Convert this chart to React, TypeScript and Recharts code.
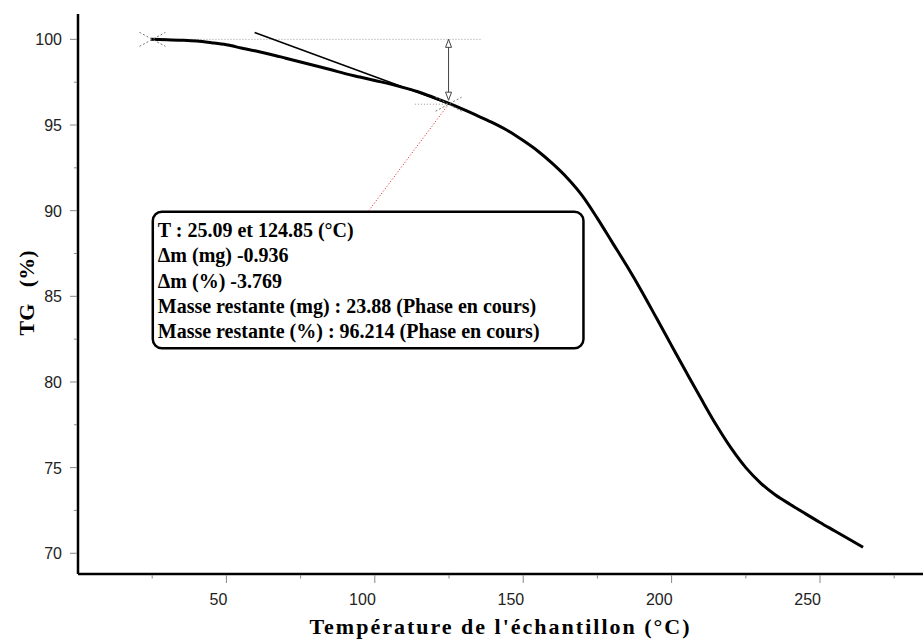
import { ComposedChart, Line, XAxis, YAxis, ReferenceLine, ReferenceDot, ReferenceArea } from 'recharts';

// TG curve (temperature in °C, mass in %)
const temps = [24.5, 30, 35, 40, 45, 50, 55, 60, 65, 70, 75, 80, 85, 90, 95, 100, 105, 110, 115, 120, 125, 130, 135, 140, 145, 150, 155, 160, 165, 170, 175, 180, 185, 190, 195, 200, 205, 210, 215, 220, 225, 230, 235, 240, 245, 250, 255, 260, 264.5];
const tgValues = [100.0, 99.98, 99.95, 99.9, 99.8, 99.68, 99.5, 99.32, 99.12, 98.9, 98.68, 98.46, 98.24, 98.0, 97.8, 97.6, 97.4, 97.17, 96.92, 96.6, 96.26, 95.9, 95.51, 95.11, 94.65, 94.09, 93.47, 92.73, 91.88, 90.85, 89.55, 88.15, 86.75, 85.27, 83.7, 82.12, 80.55, 79.0, 77.5, 76.15, 75.0, 74.1, 73.4, 72.85, 72.32, 71.8, 71.3, 70.8, 70.35];

const xTicks = [25, 50, 75, 100, 125, 150, 175, 200, 225, 250, 275];
const yTicks = [70, 72.5, 75, 77.5, 80, 82.5, 85, 87.5, 90, 92.5, 95, 97.5, 100];

const annotationLines = [
  'T : 25.09 et 124.85 (°C)',
  'Δm (mg) -0.936',
  'Δm (%) -3.769',
  'Masse restante (mg) : 23.88 (Phase en cours)',
  'Masse restante (%) : 96.214 (Phase en cours)',
];

// analysis markers (data units)
const startT = 25.09;
const endT = 124.85;
const startTG = 100;
const endTG = 96.214;
const arrowLow = 96.45;
const levelLineEnd = 136;
const shortLevelStart = 113.5;
const tangentFrom = { x: 59.5, y: 100.4 };
const tangentTo = { x: 125.5, y: 96.2 };
const calloutEnd = { x: 97.7, y: 89.94 };
const boxT = [25.2, 170.3];
const boxTG = [81.97, 89.94];

const data = temps.map((t, i) => ({ t, tg: tgValues[i] }));

const SANS = '"Liberation Sans", Arial, sans-serif';
const SERIF = '"Liberation Serif", "Times New Roman", serif';

function XTick({ x, y, payload }: any) {
  const major = payload.value % 50 === 0;
  return (
    <g>
      <line x1={x} x2={x} y1={y + 1} y2={y + (major ? 9 : 4.5)} stroke="#888" />
      {major && (
        <text x={x + 1} y={y + 31} textAnchor="end" fontFamily={SANS} fontSize={16} fill="#222">
          {payload.value}
        </text>
      )}
    </g>
  );
}

function YTick({ x, y, payload }: any) {
  const major = payload.value % 5 === 0;
  return (
    <g>
      <line x1={x - 1} x2={x - (major ? 8 : 4)} y1={y} y2={y} stroke="#888" />
      {major && (
        <text x={x - 16} y={y + 6} textAnchor="end" fontFamily={SANS} fontSize={16} fill="#222">
          {payload.value}
        </text>
      )}
    </g>
  );
}

function XTitle({ viewBox }: any) {
  return (
    <text x={viewBox.x + viewBox.width / 2} y={viewBox.y + 60} textAnchor="middle"
      fontFamily={SERIF} fontWeight="bold" fontSize={22} letterSpacing={2} fill="#000">
      Température de l'échantillon (°C)
    </text>
  );
}

function YTitle({ viewBox }: any) {
  const cx = viewBox.x + 34;
  const cy = viewBox.y + viewBox.height / 2 - 1;
  return (
    <text x={cx} y={cy} transform={`rotate(-90 ${cx} ${cy})`} textAnchor="middle"
      fontFamily={SERIF} fontWeight="bold" fontSize={22} fill="#000">
      {'TG\u00a0\u00a0\u00a0(%)'}
    </text>
  );
}

function Cross({ cx, cy }: any) {
  return (
    <g stroke="#777" strokeWidth={1} strokeDasharray="2 2">
      <line x1={cx - 13} y1={cy - 7} x2={cx + 13} y2={cy + 7} />
      <line x1={cx - 13} y1={cy + 7} x2={cx + 13} y2={cy - 7} />
    </g>
  );
}

function Arrow({ x1, y1, x2, y2 }: any) {
  const top = Math.min(y1, y2);
  const bottom = Math.max(y1, y2);
  return (
    <g stroke="#444" strokeWidth={1} fill="#fff">
      <line x1={x1} x2={x2} y1={top} y2={bottom} />
      <polygon points={`${x1},${top} ${x1 - 3},${top + 8} ${x1 + 3},${top + 8}`} />
      <polygon points={`${x1},${bottom} ${x1 - 3},${bottom - 8} ${x1 + 3},${bottom - 8}`} />
    </g>
  );
}

function InfoBox({ x, y, width, height }: any) {
  return (
    <g>
      <rect x={x} y={y} width={width} height={height} rx={9} ry={9} fill="#fff" stroke="#000" strokeWidth={2.5} />
      {annotationLines.map((line, i) => (
        <text key={i} x={x + 5} y={y + 25.5 + i * 25.2} fontFamily={SERIF} fontWeight="bold" fontSize={20} fill="#000">
          {line}
        </text>
      ))}
    </g>
  );
}

export default function App() {
  return (
    <div style={{ position: 'absolute', left: 0, top: 0, background: '#fff' }}>
      <ComposedChart width={923} height={639} data={data} margin={{ top: 14, right: 0, bottom: 0, left: 0 }}>
        <XAxis
          dataKey="t"
          type="number"
          domain={[0, 284.7]}
          allowDataOverflow
          ticks={xTicks}
          interval={0}
          height={65}
          tickSize={0}
          tickMargin={0}
          tickLine={false}
          axisLine={{ stroke: '#000', strokeWidth: 2.5 }}
          tick={<XTick />}
          label={<XTitle />}
        />
        <YAxis
          type="number"
          domain={[68.79, 101.48]}
          allowDataOverflow
          ticks={yTicks}
          interval={0}
          width={78}
          tickSize={0}
          tickMargin={0}
          tickLine={false}
          axisLine={{ stroke: '#000', strokeWidth: 2.5 }}
          tick={<YTick />}
          label={<YTitle />}
        />
        <ReferenceLine segment={[{ x: startT, y: startTG }, { x: levelLineEnd, y: startTG }]} stroke="#999" strokeDasharray="1 2" />
        <ReferenceLine segment={[{ x: shortLevelStart, y: endTG }, { x: endT, y: endTG }]} stroke="#999" strokeDasharray="1 2" />
        <ReferenceLine segment={[{ x: endT, y: endTG }, calloutEnd]} stroke="#e02020" strokeDasharray="1 2" />
        <ReferenceLine segment={[tangentFrom, tangentTo]} stroke="#000" strokeWidth={1.5} />
        <ReferenceLine segment={[{ x: endT, y: startTG }, { x: endT, y: arrowLow }]} shape={Arrow} />
        <ReferenceDot x={startT} y={startTG} shape={Cross} />
        <ReferenceDot x={endT} y={endTG} shape={Cross} />
        <Line type="monotone" dataKey="tg" stroke="#000" strokeWidth={3} dot={false} isAnimationActive={false} />
        <ReferenceArea x1={boxT[0]} x2={boxT[1]} y1={boxTG[0]} y2={boxTG[1]} shape={InfoBox} />
      </ComposedChart>
    </div>
  );
}
